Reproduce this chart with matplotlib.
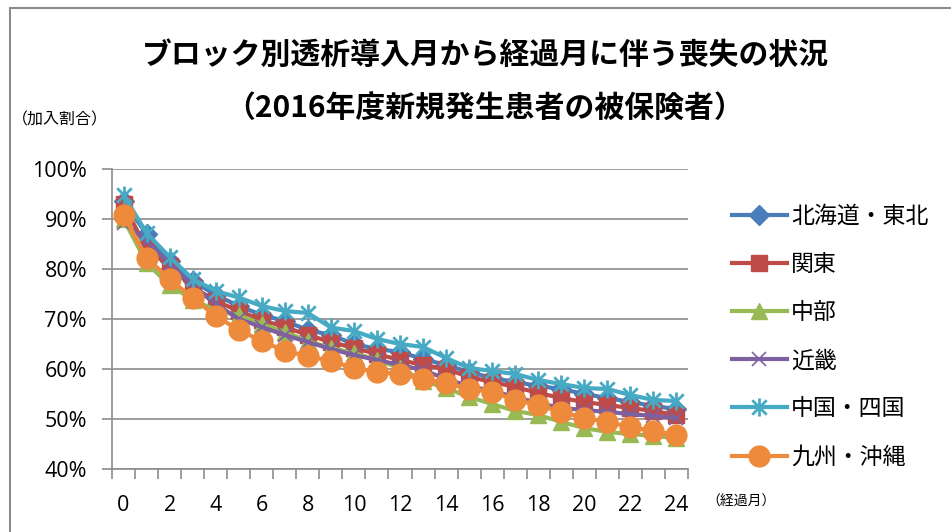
import numpy as np
import matplotlib
matplotlib.use("Agg")
import matplotlib.pyplot as plt
from matplotlib.path import Path
from matplotlib.patches import Rectangle

plt.rcParams['font.family'] = ['Noto Sans CJK JP', 'DejaVu Sans']

# months since start of dialysis
months = list(range(25))

hokkaido_tohoku = [93.5, 87.0, 81.6, 77.6, 74.8, 72.6, 70.8, 69.6, 67.8, 66.8, 65.0, 64.0, 63.4,
                   62.0, 60.8, 59.4, 58.2, 57.4, 56.6, 56.0, 55.0, 54.2, 53.4, 52.6, 52.0]
kanto = [93.0, 84.0, 80.6, 76.4, 73.6, 71.6, 69.8, 68.4, 66.8, 65.4, 64.2, 63.0, 61.8,
         60.8, 60.0, 58.4, 57.4, 56.4, 55.2, 54.2, 53.4, 52.8, 52.2, 51.6, 50.8]
chubu = [90.0, 81.2, 76.8, 73.8, 71.8, 70.8, 69.0, 67.4, 65.6, 64.2, 63.2, 61.8, 60.2,
         57.6, 56.2, 54.4, 53.0, 51.6, 50.8, 49.4, 48.2, 47.4, 47.0, 46.6, 46.2]
kinki = [89.2, 85.6, 81.0, 76.6, 73.0, 70.0, 68.4, 66.8, 65.4, 64.0, 62.8, 61.8, 60.8,
         59.8, 58.0, 56.6, 55.6, 54.4, 53.2, 52.2, 51.8, 51.4, 51.0, 50.6, 50.2]
chugoku_shikoku = [94.8, 87.2, 82.4, 78.0, 75.6, 74.3, 72.6, 71.6, 71.2, 68.3, 67.6, 66.0, 65.0,
                   64.4, 62.2, 60.2, 59.6, 59.0, 57.8, 57.0, 56.2, 56.0, 54.8, 53.8, 53.6]
kyushu_okinawa = [90.8, 82.2, 78.0, 74.2, 70.6, 67.8, 65.6, 63.6, 62.6, 61.6, 60.2, 59.4, 59.0,
                  58.0, 57.2, 56.0, 55.4, 53.8, 52.8, 51.4, 50.2, 49.4, 48.4, 47.6, 46.8]

labels = ['北海道・東北', '関東', '中部', '近畿', '中国・四国', '九州・沖縄']
colors = ['#4A7EBB', '#BE4B48', '#98B954', '#7D60A0', '#46AAC5', '#ED8A3C']

# excel style star: vertical bar plus an X
star = Path([(0, -1), (0, 1), (-0.8, -0.8), (0.8, 0.8), (-0.8, 0.8), (0.8, -0.8)],
            [Path.MOVETO, Path.LINETO, Path.MOVETO, Path.LINETO, Path.MOVETO, Path.LINETO])

fig = plt.figure(figsize=(9.51, 5.32), dpi=100)
ax = fig.add_axes([112/951, 1 - 469/532, 576/951, 300/532])

series = [hokkaido_tohoku, kanto, chubu, kinki, chugoku_shikoku, kyushu_okinawa]
styles = [dict(marker='D', ms=10),
          dict(marker='s', ms=12),
          dict(marker='^', ms=11),
          dict(marker='x', ms=10, mew=1.2),
          dict(marker=star, ms=13, mew=2),
          dict(marker='o', ms=15)]
for vals, lab, col, st in zip(series, labels, colors, styles):
    ax.plot(months, vals, color=col, lw=3, label=lab, **st)

ax.set_xlim(-0.5, 24.5)
ax.set_ylim(40, 100)
ax.set_yticks(np.arange(40, 101, 10))
ax.set_yticklabels([f'{v}%' for v in range(40, 101, 10)], family='Open Sans', fontsize=15.5)
ax.yaxis.grid(True, color='#8c8c8c', lw=1.2)
ax.set_axisbelow(True)

ax.set_xticks(np.arange(-0.5, 25, 1))
ax.set_xticklabels([])
ax.set_xticks(np.arange(0, 25, 2), minor=True)
ax.set_xticklabels([str(m) for m in range(0, 25, 2)], minor=True, family='Open Sans', fontsize=15.5)
ax.tick_params(axis='x', which='major', length=7, width=1.2, color='#8c8c8c', direction='out')
ax.tick_params(axis='x', which='minor', length=0, pad=19)
ax.tick_params(axis='y', length=7, width=1.2, color='#8c8c8c', pad=11)

for s in ['top', 'right']:
    ax.spines[s].set_visible(False)
for s in ['left', 'bottom']:
    ax.spines[s].set_color('#8c8c8c')
    ax.spines[s].set_linewidth(1.2)

leg = ax.legend(loc='upper left', bbox_to_anchor=(711/951, 1 - 184/532),
                bbox_transform=fig.transFigure, frameon=False, fontsize=16.5,
                handlelength=2.4, labelspacing=1.1, handletextpad=0.2)

fig.text(485/951, 1 - 55/532, 'ブロック別透析導入月から経過月に伴う喪失の状況',
         ha='center', va='center', fontsize=21.5, weight='bold')
fig.text(485/951, 1 - 108/532, '（2016年度新規発生患者の被保険者）',
         ha='center', va='center', fontsize=21.5, weight='bold')
fig.text(12/951, 1 - 120/532, '（加入割合）', ha='left', va='center', fontsize=11.5)
fig.text(706/951, 1 - 502/532, '（経過月）', ha='left', va='center', fontsize=10)

# outer chart frame, cut off at right and bottom like the screenshot
fig.patches.append(Rectangle((10/951, -0.1), 1.2, 1 - 8/532 + 0.1, transform=fig.transFigure,
                             fill=False, ec='#8c8c8c', lw=1.5))

fig.savefig('out.png', dpi=100)
